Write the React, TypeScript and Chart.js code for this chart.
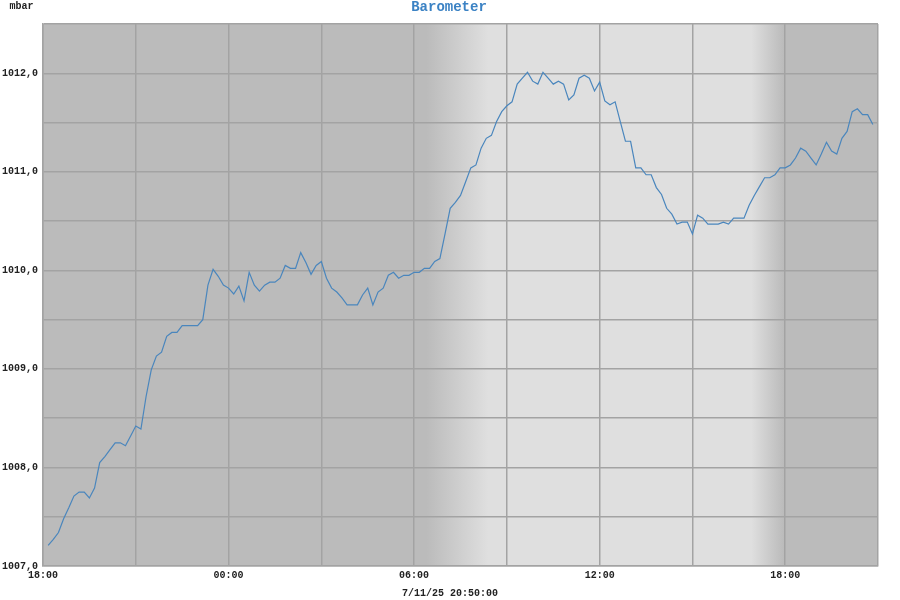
import React, { useEffect, useRef } from "react";
import { Chart, registerables } from "chart.js";

Chart.register(...registerables);

// Chart content
const chartTitle = "Barometer";
const unitLabel = "mbar";
const timestampLabel = "7/11/25 20:50:00";

// Samples every 10 minutes, first sample at 18:10 (minutes after 18:00)
const firstSampleMinutes = 10;
const sampleStepMinutes = 10;
const pressure = [
  1007.21, 1007.27, 1007.34, 1007.48, 1007.59, 1007.71, 1007.75, 1007.75, 1007.69, 1007.79,
  1008.05, 1008.11, 1008.18, 1008.25, 1008.25, 1008.22, 1008.32, 1008.42, 1008.39, 1008.72,
  1008.99, 1009.13, 1009.17, 1009.33, 1009.37, 1009.37, 1009.44, 1009.44, 1009.44, 1009.44,
  1009.50, 1009.85, 1010.01, 1009.94, 1009.85, 1009.82, 1009.76, 1009.84, 1009.69, 1009.98,
  1009.85, 1009.79, 1009.85, 1009.88, 1009.88, 1009.92, 1010.05, 1010.02, 1010.02, 1010.18,
  1010.08, 1009.96, 1010.05, 1010.09, 1009.92, 1009.82, 1009.78, 1009.72, 1009.65, 1009.65,
  1009.65, 1009.75, 1009.82, 1009.65, 1009.78, 1009.82, 1009.95, 1009.98, 1009.92, 1009.95,
  1009.95, 1009.98, 1009.98, 1010.02, 1010.02, 1010.09, 1010.12, 1010.37, 1010.63, 1010.69,
  1010.76, 1010.90, 1011.04, 1011.07, 1011.24, 1011.34, 1011.37, 1011.51, 1011.61, 1011.67,
  1011.71, 1011.89, 1011.95, 1012.01, 1011.92, 1011.89, 1012.01, 1011.95, 1011.89, 1011.92,
  1011.89, 1011.73, 1011.78, 1011.95, 1011.98, 1011.95, 1011.82, 1011.91, 1011.72, 1011.68,
  1011.71, 1011.51, 1011.31, 1011.31, 1011.04, 1011.04, 1010.97, 1010.97, 1010.84, 1010.77,
  1010.63, 1010.57, 1010.47, 1010.49, 1010.49, 1010.37, 1010.56, 1010.53, 1010.47, 1010.47,
  1010.47, 1010.49, 1010.47, 1010.53, 1010.53, 1010.53, 1010.66, 1010.76, 1010.85, 1010.94,
  1010.94, 1010.97, 1011.04, 1011.04, 1011.07, 1011.14, 1011.24, 1011.21, 1011.14, 1011.07,
  1011.18, 1011.30, 1011.21, 1011.18, 1011.34, 1011.41, 1011.61, 1011.64, 1011.58, 1011.58,
  1011.48,
];

// X axis: hours after 18:00
const xMinHours = 0;
const xMaxHours = 27;
const xGridStepHours = 3;
const xTickLabels = ["18:00", "00:00", "06:00", "12:00", "18:00"];

// Y axis
const yMin = 1007;
const yMax = 1012.5;
const yStep = 0.5;

// Daylight shading (hours after 18:00)
const sunriseStart = 12.4;
const sunriseEnd = 14.4;
const sunsetStart = 22.9;
const sunsetEnd = 23.95;

const NIGHT = "#bbbbbb";
const DAY = "#dfdfdf";
const GRID = "#a3a3a3";
const FONT = "'Liberation Mono', 'Courier New', monospace";

export default function App() {
  const ref = useRef<HTMLCanvasElement | null>(null);

  useEffect(() => {
    if (!ref.current) return;
    const data = pressure.map((v, i) => ({
      x: (firstSampleMinutes + i * sampleStepMinutes) / 60,
      y: v,
    }));

    const bgPlugin = {
      id: "daynight",
      beforeDraw(chart: any) {
        const { ctx, chartArea, scales } = chart;
        const x = scales.x;
        const w = chartArea.right - chartArea.left;
        const f = (h: number) =>
          Math.min(1, Math.max(0, (x.getPixelForValue(h) - chartArea.left) / w));
        const g = ctx.createLinearGradient(chartArea.left, 0, chartArea.right, 0);
        g.addColorStop(0, NIGHT);
        g.addColorStop(f(sunriseStart), NIGHT);
        g.addColorStop(f(sunriseEnd), DAY);
        g.addColorStop(f(sunsetStart), DAY);
        g.addColorStop(f(sunsetEnd), NIGHT);
        g.addColorStop(1, NIGHT);
        ctx.save();
        ctx.fillStyle = g;
        ctx.fillRect(chartArea.left, chartArea.top, w, chartArea.bottom - chartArea.top);
        ctx.restore();
      },
      afterDraw(chart: any) {
        const { ctx } = chart;
        ctx.save();
        ctx.textAlign = "center";
        ctx.textBaseline = "middle";
        ctx.fillStyle = "#222222";
        ctx.font = `bold 10px ${FONT}`;
        ctx.fillText(unitLabel, 21.5, 6.5);
        ctx.fillText(timestampLabel, 450, 593);
        ctx.fillStyle = "#3b82c4";
        ctx.font = `bold 14px ${FONT}`;
        ctx.fillText(chartTitle, 449, 7.5);
        ctx.restore();
      },
    };

    const chart = new Chart(ref.current, {
      type: "line",
      data: {
        datasets: [
          {
            data,
            borderColor: "#4a86bd",
            borderWidth: 1.2,
            pointRadius: 0,
            fill: false,
            tension: 0,
          },
        ],
      },
      options: {
        animation: false,
        responsive: false,
        parsing: false as any,
        layout: { padding: { top: 24, right: 22, left: 0, bottom: 0 } },
        plugins: {
          legend: { display: false },
          tooltip: { enabled: false },
          title: { display: false },
        },
        scales: {
          x: {
            type: "linear",
            min: xMinHours,
            max: xMaxHours,
            afterFit(scale: any) {
              scale.height = 34;
            },
            border: { display: true, color: GRID, width: 1.5 },
            grid: { color: GRID, lineWidth: 1.5, drawTicks: false },
            ticks: {
              stepSize: xGridStepHours,
              autoSkip: false,
              maxRotation: 0,
              padding: 3.5,
              color: "#222222",
              font: { family: FONT, size: 10, weight: "bold" },
              callback: (v: any) => {
                const h = Number(v);
                if (h % 6 !== 0) return "";
                return xTickLabels[h / 6] ?? "";
              },
            },
          },
          y: {
            type: "linear",
            min: yMin,
            max: yMax,
            afterFit(scale: any) {
              scale.width = 43;
            },
            border: { display: true, color: GRID, width: 1.5 },
            grid: { color: GRID, lineWidth: 1.5, drawTicks: false },
            ticks: {
              stepSize: yStep,
              autoSkip: false,
              padding: 5,
              color: "#222222",
              font: { family: FONT, size: 10, weight: "bold" },
              callback: (v: any) => {
                const n = Number(v);
                if (Math.abs(n - Math.round(n)) > 1e-6) return "";
                return n.toFixed(1).replace(".", ",");
              },
            },
          },
        },
      },
      plugins: [bgPlugin],
    } as any);

    return () => chart.destroy();
  }, []);

  return (
    <div style={{ position: "absolute", left: 0, top: 0, width: 900, height: 600, background: "#ffffff" }}>
      <canvas ref={ref} width={900} height={600} style={{ display: "block" }} />
    </div>
  );
}
